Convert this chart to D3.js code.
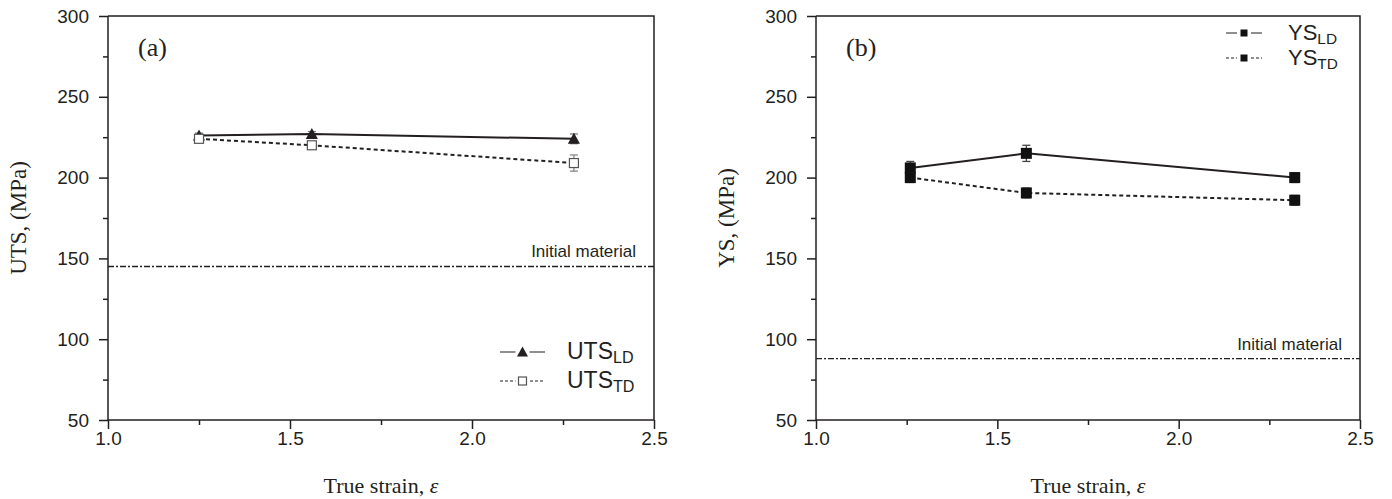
<!DOCTYPE html>
<html>
<head>
<meta charset="utf-8">
<script src="https://cdn.jsdelivr.net/npm/d3@7"></script>
<style>
  body { margin: 0; background: #fff; }
  svg { display: block; }
  .tick text { font-family: "Liberation Sans", Arial, sans-serif; font-size: 19px; fill: #231f20; }
  .serif { font-family: "Liberation Serif", "Times New Roman", serif; fill: #231f20; }
  .sans { font-family: "Liberation Sans", Arial, sans-serif; fill: #231f20; }
</style>
</head>
<body>
<svg width="1392" height="499"></svg>
<script>
// chart data
const strainA = [1.25, 1.56, 2.28];
const utsLD = [226, 227, 224];
const utsLDErr = [1.5, 1.5, 3];
const utsTD = [224, 220, 209];
const utsTDErr = [1.5, 2, 5];
const utsInitial = 145;

const strainB = [1.26, 1.58, 2.32];
const ysLD = [206, 215, 200];
const ysLDErr = [4, 5, 3];
const ysTD = [200, 190.5, 186];
const ysTDErr = [3, 3, 3];
const ysInitial = 88;

const xTicks = [1.0, 1.5, 2.0, 2.5];
const yTicks = [50, 100, 150, 200, 250, 300];
const ink = '#231f20';

const svg = d3.select('svg');

/**
 * Draw one panel with its axes, series, legend and reference line
 */
function drawPanel(opt) {
  const x = d3.scaleLinear().domain([1.0, 2.5]).range([opt.left, opt.right]);
  const y = d3.scaleLinear().domain([50, 300]).range([420, 16]);
  const g = svg.append('g');

  // frame top and right
  g.append('path')
    .attr('d', `M${opt.left},16H${opt.right}V420`)
    .attr('fill', 'none').attr('stroke', ink).attr('stroke-width', 1.5);

  // minor ticks first, majors on top
  g.append('g').attr('transform', 'translate(0,420)')
    .call(d3.axisBottom(x).tickValues([1.25, 1.75, 2.25]).tickSize(5).tickFormat(''))
    .call(a => a.select('.domain').remove())
    .call(a => a.selectAll('line').attr('stroke', ink).attr('stroke-width', 1.5));
  g.append('g').attr('transform', `translate(${opt.left},0)`)
    .call(d3.axisLeft(y).tickValues([75, 125, 175, 225, 275]).tickSize(5).tickFormat(''))
    .call(a => a.select('.domain').remove())
    .call(a => a.selectAll('line').attr('stroke', ink).attr('stroke-width', 1.5));

  g.append('g').attr('transform', 'translate(0,420)')
    .call(d3.axisBottom(x).tickValues(xTicks).tickSize(9).tickPadding(3).tickFormat(d3.format('.1f')))
    .call(a => a.select('.domain').attr('stroke', ink).attr('stroke-width', 1.5).attr('d', `M${opt.left},0H${opt.right}`))
    .call(a => a.selectAll('line').attr('stroke', ink).attr('stroke-width', 1.5));
  g.append('g').attr('transform', `translate(${opt.left},0)`)
    .call(d3.axisLeft(y).tickValues(yTicks).tickSize(9).tickPadding(10))
    .call(a => a.select('.domain').attr('stroke', ink).attr('stroke-width', 1.5).attr('d', 'M0,16V420'))
    .call(a => a.selectAll('line').attr('stroke', ink).attr('stroke-width', 1.5));

  // axis titles
  g.append('text').attr('class', 'serif')
    .attr('x', (opt.left + opt.right) / 2).attr('y', 493)
    .attr('text-anchor', 'middle').attr('font-size', 22)
    .text('True strain, ').append('tspan').attr('font-style', 'italic').text('ε');
  g.append('text').attr('class', 'serif')
    .attr('transform', `translate(${opt.left - 82},218) rotate(-90)`)
    .attr('text-anchor', 'middle').attr('font-size', 23)
    .text(opt.yTitle);

  // panel letter
  g.append('text').attr('class', 'serif')
    .attr('x', opt.left + 30).attr('y', 56).attr('font-size', 26)
    .text(opt.letter);

  // initial material reference
  g.append('line')
    .attr('x1', opt.left).attr('x2', opt.right)
    .attr('y1', y(opt.initial)).attr('y2', y(opt.initial))
    .attr('stroke', ink).attr('stroke-width', 1.3).attr('stroke-dasharray', '6,2,2,2');
  g.append('text').attr('class', 'sans')
    .attr('x', opt.right - 18).attr('y', y(opt.initial) - 9)
    .attr('text-anchor', 'end').attr('font-size', 17)
    .text('Initial material');

  // series
  opt.series.forEach(s => {
    const pts = s.values.map((v, i) => ({ x: opt.strain[i], y: v, e: s.err[i] }));
    g.append('path')
      .attr('d', d3.line().x(d => x(d.x)).y(d => y(d.y))(pts))
      .attr('fill', 'none').attr('stroke', ink).attr('stroke-width', 2)
      .attr('stroke-dasharray', s.dashed ? '4,3' : null);
    const eb = g.append('g').attr('stroke', s.errColor).attr('stroke-width', 1.3);
    pts.forEach(d => {
      const cx = x(d.x);
      eb.append('line').attr('x1', cx).attr('x2', cx).attr('y1', y(d.y - d.e)).attr('y2', y(d.y + d.e));
      [d.y - d.e, d.y + d.e].forEach(v => {
        eb.append('line').attr('x1', cx - 4).attr('x2', cx + 4).attr('y1', y(v)).attr('y2', y(v));
      });
    });
    pts.forEach(d => drawMarker(g, s.marker, x(d.x), y(d.y), 11));
  });

  // legend
  opt.series.forEach((s, i) => {
    const ly = opt.legend.y + i * opt.legend.dy;
    const lx = opt.legend.x;
    g.append('line')
      .attr('x1', lx).attr('x2', lx + opt.legend.w)
      .attr('y1', ly).attr('y2', ly)
      .attr('stroke', ink).attr('stroke-width', 1.2)
      .attr('stroke-dasharray', s.dashed ? '3,2' : null);
    g.append('rect').attr('x', lx + opt.legend.w / 2 - 7).attr('y', ly - 6)
      .attr('width', 14).attr('height', 12).attr('fill', '#fff');
    drawMarker(g, s.marker, lx + opt.legend.w / 2, ly, s.marker === 'square' ? 7 : 10);
    const t = g.append('text').attr('class', 'sans')
      .attr('x', lx + opt.legend.w + opt.legend.gap).attr('y', ly + 7).attr('font-size', opt.legend.size)
      .text(s.name);
    t.append('tspan').attr('font-size', opt.legend.size * 0.7).attr('dy', 4).text(s.sub);
  });
}

function drawMarker(g, type, cx, cy, size) {
  if (type === 'triangle') {
    g.append('path')
      .attr('d', `M${cx},${cy - size * 0.55}L${cx + size * 0.55},${cy + size * 0.45}L${cx - size * 0.55},${cy + size * 0.45}Z`)
      .attr('fill', ink);
  } else if (type === 'open') {
    g.append('rect').attr('x', cx - size / 2 + 1).attr('y', cy - size / 2 + 1)
      .attr('width', size - 2).attr('height', size - 2)
      .attr('fill', '#fff').attr('stroke', '#555').attr('stroke-width', 1.2);
  } else {
    g.append('rect').attr('x', cx - size / 2).attr('y', cy - size / 2)
      .attr('width', size).attr('height', size).attr('fill', '#111');
  }
}

drawPanel({
  left: 108, right: 654, letter: '(a)', yTitle: 'UTS, (MPa)',
  strain: strainA, initial: utsInitial,
  legend: { x: 500, y: 352, dy: 29, w: 45, gap: 22, size: 23 },
  series: [
    { name: 'UTS', sub: 'LD', values: utsLD, err: utsLDErr, marker: 'triangle', dashed: false, errColor: '#777' },
    { name: 'UTS', sub: 'TD', values: utsTD, err: utsTDErr, marker: 'open', dashed: true, errColor: '#888' }
  ]
});

drawPanel({
  left: 816, right: 1360, letter: '(b)', yTitle: 'YS, (MPa)',
  strain: strainB, initial: ysInitial,
  legend: { x: 1226, y: 33, dy: 25, w: 36, gap: 26, size: 22 },
  series: [
    { name: 'YS', sub: 'LD', values: ysLD, err: ysLDErr, marker: 'square', dashed: false, errColor: '#444' },
    { name: 'YS', sub: 'TD', values: ysTD, err: ysTDErr, marker: 'square', dashed: true, errColor: '#444' }
  ]
});
</script>
</body>
</html>
